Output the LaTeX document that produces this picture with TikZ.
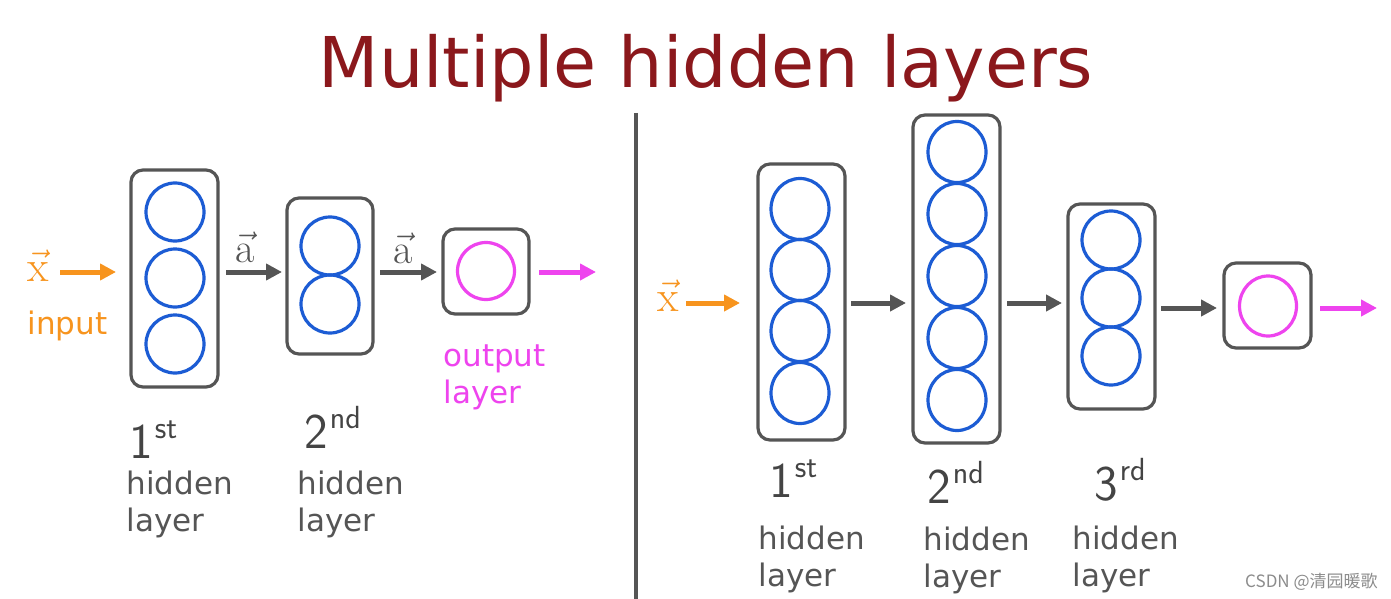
\documentclass[tikz,border=0pt]{standalone}
\usepackage{fontspec}
\usetikzlibrary{arrows.meta,shapes.geometric}
\newfontfamily\dejavu{DejaVu Sans}
\newfontfamily\cjk{Noto Sans CJK SC}
\definecolor{titlered}{RGB}{139,24,28}
\definecolor{boxgray}{RGB}{85,85,85}
\definecolor{nblue}{RGB}{28,92,212}
\definecolor{xorange}{RGB}{247,148,30}
\definecolor{omag}{RGB}{238,68,238}
\definecolor{txtgray}{RGB}{85,85,85}
\definecolor{wmgray}{RGB}{140,140,140}
\newcommand\ordnum[2]{{\fontsize{25}{25}\selectfont #1}\kern1pt\raisebox{10pt}{\fontsize{16}{16}\selectfont #2}}
\begin{document}
\begin{tikzpicture}[x=0.5pt,y=-0.5pt,
  layerbox/.style={draw=boxgray, line width=1.6pt, rounded corners=6pt, inner sep=0pt},
  neuron/.style={ellipse, draw=nblue, line width=1.6pt, inner sep=0pt, minimum width=29pt, minimum height=29pt},
  outneuron/.style={neuron, draw=omag},
  flow/.style={line width=2.5pt, -{Triangle[length=8pt,width=8pt]}},
  grayflow/.style={flow, draw=boxgray},
  inflow/.style={flow, draw=xorange},
  outflow/.style={flow, draw=omag},
  lbl/.style={font=\dejavu\fontsize{15.5}{19}\selectfont, text=txtgray, inner sep=0pt, anchor=base west},
  ordlbl/.style={font=\sffamily, text=txtgray!80!black, inner sep=0pt, anchor=base west},
  vecx/.style={font=\fontsize{22}{22}\selectfont, text=xorange, inner sep=0pt, anchor=base west},
  veca/.style={font=\fontsize{21}{21}\selectfont, text=txtgray, inner sep=0pt, anchor=base west}
]
\useasboundingbox (0,0) rectangle (1391,599);
\fill[white] (0,0) rectangle (1391,599);

% title
\node[font=\dejavu\fontsize{35}{40}\selectfont, text=titlered, inner sep=0pt, anchor=base] (title) at (706,88) {Multiple hidden layers};

% divider
\coordinate (divtop) at (636,113);
\coordinate (divbot) at (636,599);
\draw[boxgray, line width=1.6pt] (divtop) -- (divbot);

% ---------------- left network ----------------
\node[layerbox, minimum width=43.5pt, minimum height=108.5pt] (b1) at (174.5,278.5) {};
\node[neuron] (b1n1) at (175,212) {};
\node[neuron] (b1n2) at (175,278) {};
\node[neuron] (b1n3) at (175,344) {};

\node[layerbox, minimum width=43pt, minimum height=78pt] (b2) at (330,276) {};
\node[neuron] (b2n1) at (330,246) {};
\node[neuron] (b2n2) at (330,304) {};

\node[layerbox, minimum width=43pt, minimum height=42.5pt] (b3) at (486,271.5) {};
\node[outneuron, minimum width=28.5pt, minimum height=28.5pt] (b3n1) at (486,271) {};

\coordinate (lin0) at (60,272);   \coordinate (lin1) at (116,272);
\coordinate (la0) at (226,272);   \coordinate (la1) at (282,272);
\coordinate (lb0) at (380,272);   \coordinate (lb1) at (437,272);
\coordinate (lout0) at (539,272); \coordinate (lout1) at (596,272);
\draw[inflow] (lin0) -- (lin1);
\draw[grayflow] (la0) -- (la1);
\draw[grayflow] (lb0) -- (lb1);
\draw[outflow] (lout0) -- (lout1);

\node[vecx] (lx) at (27,281) {$\vec{\mathrm{x}}$};
\node[veca] (la) at (235,262) {$\vec{\mathrm{a}}$};
\node[veca] (lb) at (393,263) {$\vec{\mathrm{a}}$};
\node[lbl, text=xorange] (linput) at (27,334) {input};
\node[lbl, text=omag] (lout) at (443,366) {output};
\node[lbl, text=omag] (loutl) at (443,403) {layer};

\node[ordlbl] (lo1) at (129,458) {\ordnum{1}{st}};
\node[lbl] (lh1) at (126,494) {hidden};
\node[lbl] (ll1) at (126,531) {layer};
\node[ordlbl] (lo2) at (304,448) {\ordnum{2}{nd}};
\node[lbl] (lh2) at (297,494) {hidden};
\node[lbl] (ll2) at (297,531) {layer};

% ---------------- right network ----------------
\node[layerbox, minimum width=43.5pt, minimum height=138pt] (rA) at (801.5,302) {};
\foreach \y [count=\i] in {209,270,331,393}
  \node[neuron, minimum height=30.5pt] (rAn\i) at (800,\y) {};

\node[layerbox, minimum width=43.5pt, minimum height=164pt] (rB) at (956.5,279) {};
\foreach \y [count=\i] in {152,214,276,338,400}
  \node[neuron, minimum height=30.5pt] (rBn\i) at (957,\y) {};

\node[layerbox, minimum width=43.5pt, minimum height=102.5pt] (rC) at (1111.5,306.5) {};
\foreach \y [count=\i] in {240,298,356}
  \node[neuron] (rCn\i) at (1111,\y) {};

\node[layerbox, minimum width=43.5pt, minimum height=42.5pt] (rD) at (1267.5,305.5) {};
\node[outneuron, minimum width=28.5pt, minimum height=30pt] (rDn1) at (1268,306) {};

\coordinate (rin0) at (686,303);   \coordinate (rin1) at (740,303);
\coordinate (ra0) at (851,303);    \coordinate (ra1) at (906,303);
\coordinate (rb0) at (1007,303);   \coordinate (rb1) at (1062,303);
\coordinate (rc0) at (1161,308);   \coordinate (rc1) at (1217,308);
\coordinate (rout0) at (1320,308); \coordinate (rout1) at (1377,308);
\draw[inflow] (rin0) -- (rin1);
\draw[grayflow] (ra0) -- (ra1);
\draw[grayflow] (rb0) -- (rb1);
\draw[grayflow] (rc0) -- (rc1);
\draw[outflow] (rout0) -- (rout1);

\node[vecx] (rx) at (657,311) {$\vec{\mathrm{x}}$};

\node[ordlbl] (ro1) at (769,497) {\ordnum{1}{st}};
\node[lbl] (rh1) at (758,549) {hidden};
\node[lbl] (rl1) at (758,586) {layer};
\node[ordlbl] (ro2) at (927,503) {\ordnum{2}{nd}};
\node[lbl] (rh2) at (923,550) {hidden};
\node[lbl] (rl2) at (923,587) {layer};
\node[ordlbl] (ro3) at (1094,500) {\ordnum{3}{rd}};
\node[lbl] (rh3) at (1072,549) {hidden};
\node[lbl] (rl3) at (1072,586) {layer};

% watermark
\node[font=\cjk\fontsize{8.5}{10}\selectfont, text=wmgray, inner sep=0pt, anchor=base east] (wm) at (1378,587) {CSDN @清园暖歌};
\end{tikzpicture}
\end{document}
